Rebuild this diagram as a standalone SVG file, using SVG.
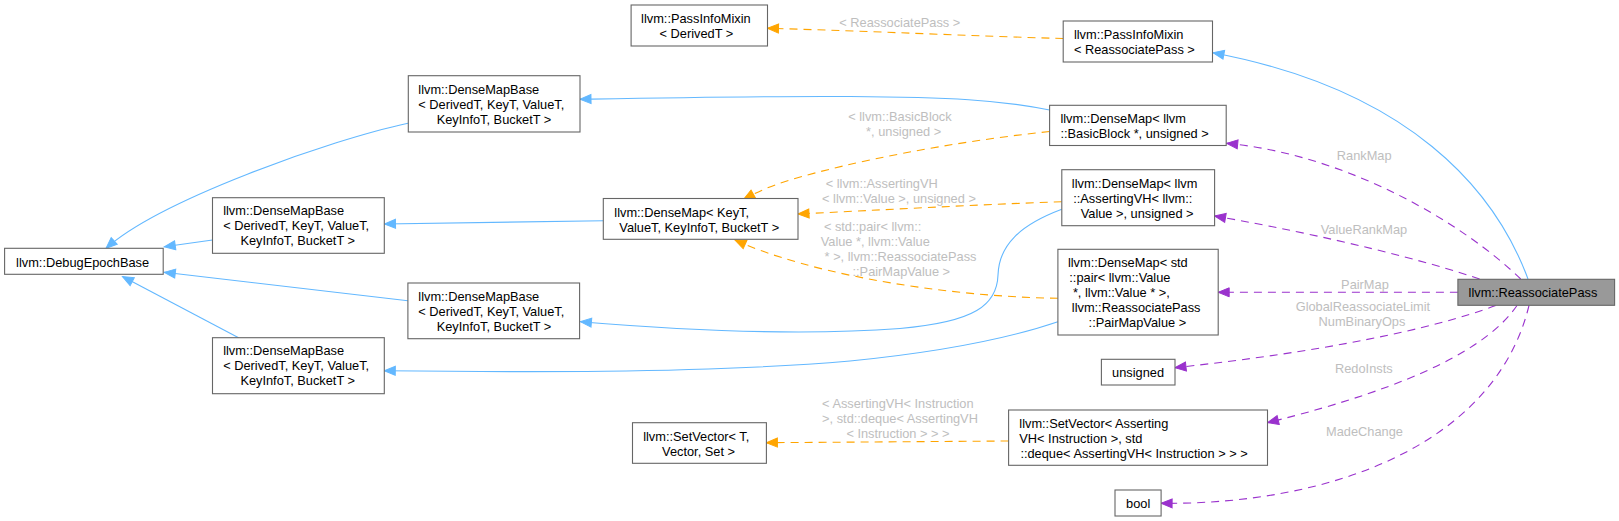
<svg xmlns="http://www.w3.org/2000/svg" width="1619" height="521" viewBox="0 0 1619 521">
<style>
.n rect{fill:#ffffff;stroke:#666666;stroke-width:1.1}
.n text,.lbl text{font-family:"Liberation Sans",Arial,sans-serif;font-size:12.8px}
.n text{fill:#000000}
.lbl text{fill:#bebebe}
.main rect{fill:#999999}
.b{fill:none;stroke:#63b8ff;stroke-width:1.1}
.o{fill:none;stroke:#ffa500;stroke-width:1.1;stroke-dasharray:8,6}
.p{fill:none;stroke:#9a32cd;stroke-width:1.1;stroke-dasharray:8,6}
</style>
<defs>
<marker id="ab" markerUnits="userSpaceOnUse" markerWidth="13" markerHeight="11" refX="11" refY="4.5" orient="auto" overflow="visible"><path d="M0,0 L11,4.5 L0,9 Z" fill="#63b8ff" stroke="#63b8ff" stroke-width="1"/></marker>
<marker id="ao" markerUnits="userSpaceOnUse" markerWidth="13" markerHeight="11" refX="11" refY="4.5" orient="auto" overflow="visible"><path d="M0,0 L11,4.5 L0,9 Z" fill="#ffa500" stroke="#ffa500" stroke-width="1"/></marker>
<marker id="ap" markerUnits="userSpaceOnUse" markerWidth="13" markerHeight="11" refX="11" refY="4.5" orient="auto" overflow="visible"><path d="M0,0 L11,4.5 L0,9 Z" fill="#9a32cd" stroke="#9a32cd" stroke-width="1"/></marker>
</defs>
<rect x="0" y="0" width="1619" height="521" fill="#ffffff"/>
<g id="edges">
<path class="b" marker-end="url(#ab)" d="M408,123.3 C330,140 160,200 106,248.3"/>
<path class="b" marker-end="url(#ab)" d="M212.5,240 L164.3,246.7"/>
<path class="b" marker-end="url(#ab)" d="M407.9,300.7 L164.3,272.3"/>
<path class="b" marker-end="url(#ab)" d="M238.6,337.7 L122.5,276.5"/>
<path class="b" marker-end="url(#ab)" d="M603.3,220.7 L384.5,224"/>
<path class="b" marker-end="url(#ab)" d="M1049.6,110 C1000,100 950,97 850,96.5 C750,96 650,98 580,99.3"/>
<path class="b" marker-end="url(#ab)" d="M1061.8,209.3 C1020,225 999,245 998,275 C997,305 975,322 900,328.5 C800,336 680,330 580.4,321.7"/>
<path class="b" marker-end="url(#ab)" d="M1057.9,321.7 C1010,338 940,352 850,361 C700,374 500,372 384.3,370.7"/>
<path class="b" marker-end="url(#ab)" d="M1528,279 C1495,190 1410,90 1213,52.7"/>
<path class="o" marker-end="url(#ao)" d="M1063.2,38.5 C970,36 870,31 767.5,28.3"/>
<path class="o" marker-end="url(#ao)" d="M1049.6,131.5 C950,142 850,162 790,180 C770,186 755,193 743.6,199.3"/>
<path class="o" marker-end="url(#ao)" d="M1061.8,201.7 C970,205 880,210 798,214"/>
<path class="o" marker-end="url(#ao)" d="M1057.9,298.3 C970,297 870,283 800,263 C775,256 755,249 735,240"/>
<path class="o" marker-end="url(#ao)" d="M1008.6,441 L766.4,442.7"/>
<path class="p" marker-end="url(#ap)" d="M1520.7,279 C1465,225 1350,155 1226.7,143.3"/>
<path class="p" marker-end="url(#ap)" d="M1479.6,279 C1430,262 1330,236 1214.6,216"/>
<path class="p" marker-end="url(#ap)" d="M1457.9,292.3 L1218.2,292.3"/>
<path class="p" marker-end="url(#ap)" d="M1495.7,305.5 C1430,330 1320,352 1175,367.7"/>
<path class="p" marker-end="url(#ap)" d="M1517,305.5 C1490,345 1420,385 1267.5,422.7"/>
<path class="p" marker-end="url(#ap)" d="M1529,305.5 C1495,445 1330,505 1161.1,503.3"/>
</g>
<g id="edge-labels" class="lbl">
<text x="839.3" y="27">&lt; ReassociatePass &gt;</text>
<text x="848.2" y="120.7">&lt; llvm::BasicBlock</text>
<text x="866.1" y="135.7">*, unsigned &gt;</text>
<text x="825.7" y="188.3">&lt; llvm::AssertingVH</text>
<text x="822.1" y="203.3">&lt; llvm::Value &gt;, unsigned &gt;</text>
<text x="823.9" y="231">&lt; std::pair&lt; llvm::</text>
<text x="820.7" y="246">Value *, llvm::Value</text>
<text x="824.6" y="261">* &gt;, llvm::ReassociatePass</text>
<text x="852.5" y="276">::PairMapValue &gt;</text>
<text x="822.1" y="407.7">&lt; AssertingVH&lt; Instruction</text>
<text x="822.1" y="422.7">&gt;, std::deque&lt; AssertingVH</text>
<text x="846.4" y="437.7">&lt; Instruction &gt; &gt; &gt;</text>
<text x="1336.8" y="160">RankMap</text>
<text x="1320.7" y="234">ValueRankMap</text>
<text x="1341.1" y="289">PairMap</text>
<text x="1295.7" y="310.7">GlobalReassociateLimit</text>
<text x="1318.6" y="325.7">NumBinaryOps</text>
<text x="1335" y="373.3">RedoInsts</text>
<text x="1326.1" y="436">MadeChange</text>
</g>
<g id="node-main" class="n main">
<rect x="1457.9" y="279.3" width="156.7" height="26"/>
<text x="1468.6" y="297">llvm::ReassociatePass</text>
</g>
<g id="node-pim-rp" class="n">
<rect x="1063.2" y="21" width="149.3" height="41"/>
<text x="1073.9" y="39">llvm::PassInfoMixin</text>
<text x="1073.9" y="54">&lt; ReassociatePass &gt;</text>
</g>
<g id="node-pim-t" class="n">
<rect x="631.1" y="5" width="136.4" height="41"/>
<text x="641.1" y="22.7">llvm::PassInfoMixin</text>
<text x="659.6" y="37.7">&lt; DerivedT &gt;</text>
</g>
<g id="node-debugepoch" class="n">
<rect x="4.6" y="248.3" width="158.6" height="26"/>
<text x="16.1" y="266.5">llvm::DebugEpochBase</text>
</g>
<g id="node-dmb-a" class="n">
<rect x="408.3" y="75.7" width="171.7" height="56.3"/>
<text x="418.3" y="94">llvm::DenseMapBase</text>
<text x="418.3" y="109">&lt; DerivedT, KeyT, ValueT,</text>
<text x="436.7" y="124">KeyInfoT, BucketT &gt;</text>
</g>
<g id="node-dmb-b" class="n">
<rect x="212.5" y="197.7" width="171.8" height="55.6"/>
<text x="223.2" y="215.3">llvm::DenseMapBase</text>
<text x="223.2" y="230.3">&lt; DerivedT, KeyT, ValueT,</text>
<text x="240.4" y="245.3">KeyInfoT, BucketT &gt;</text>
</g>
<g id="node-dmb-c" class="n">
<rect x="407.9" y="283" width="171.7" height="55.7"/>
<text x="418.3" y="300.7">llvm::DenseMapBase</text>
<text x="418.3" y="315.7">&lt; DerivedT, KeyT, ValueT,</text>
<text x="436.7" y="330.7">KeyInfoT, BucketT &gt;</text>
</g>
<g id="node-dmb-d" class="n">
<rect x="212.5" y="337.7" width="171.8" height="56"/>
<text x="223.2" y="355.3">llvm::DenseMapBase</text>
<text x="223.2" y="370.3">&lt; DerivedT, KeyT, ValueT,</text>
<text x="240.4" y="385.3">KeyInfoT, BucketT &gt;</text>
</g>
<g id="node-dm-generic" class="n">
<rect x="603.3" y="198.5" width="194.7" height="40.8"/>
<text x="614.3" y="217">llvm::DenseMap&lt; KeyT,</text>
<text x="619.3" y="232">ValueT, KeyInfoT, BucketT &gt;</text>
</g>
<g id="node-dm-bb" class="n">
<rect x="1049.6" y="105.3" width="176.6" height="40.2"/>
<text x="1060.4" y="123">llvm::DenseMap&lt; llvm</text>
<text x="1060.4" y="138">::BasicBlock *, unsigned &gt;</text>
</g>
<g id="node-dm-avh" class="n">
<rect x="1061.8" y="169.7" width="152.8" height="56"/>
<text x="1071.8" y="187.5">llvm::DenseMap&lt; llvm</text>
<text x="1073.2" y="202.5">::AssertingVH&lt; llvm::</text>
<text x="1080.7" y="217.5">Value &gt;, unsigned &gt;</text>
</g>
<g id="node-dm-pair" class="n">
<rect x="1057.9" y="249.3" width="160.3" height="85.7"/>
<text x="1067.9" y="267">llvm::DenseMap&lt; std</text>
<text x="1069.3" y="282">::pair&lt; llvm::Value</text>
<text x="1072.9" y="297">*, llvm::Value * &gt;,</text>
<text x="1071.8" y="312">llvm::ReassociatePass</text>
<text x="1088.6" y="327">::PairMapValue &gt;</text>
</g>
<g id="node-unsigned" class="n">
<rect x="1101.4" y="359.3" width="73.6" height="25.7"/>
<text x="1112.1" y="377">unsigned</text>
</g>
<g id="node-sv-avh" class="n">
<rect x="1008.6" y="410" width="258.9" height="55.3"/>
<text x="1019.3" y="428">llvm::SetVector&lt; Asserting</text>
<text x="1019.3" y="443">VH&lt; Instruction &gt;, std</text>
<text x="1020.4" y="458">::deque&lt; AssertingVH&lt; Instruction &gt; &gt; &gt;</text>
</g>
<g id="node-sv-t" class="n">
<rect x="632.5" y="422.7" width="133.9" height="40.6"/>
<text x="643.2" y="440.5">llvm::SetVector&lt; T,</text>
<text x="662.1" y="455.5">Vector, Set &gt;</text>
</g>
<g id="node-bool" class="n">
<rect x="1115" y="490" width="46.1" height="26"/>
<text x="1126.1" y="507.5">bool</text>
</g>
</svg>
